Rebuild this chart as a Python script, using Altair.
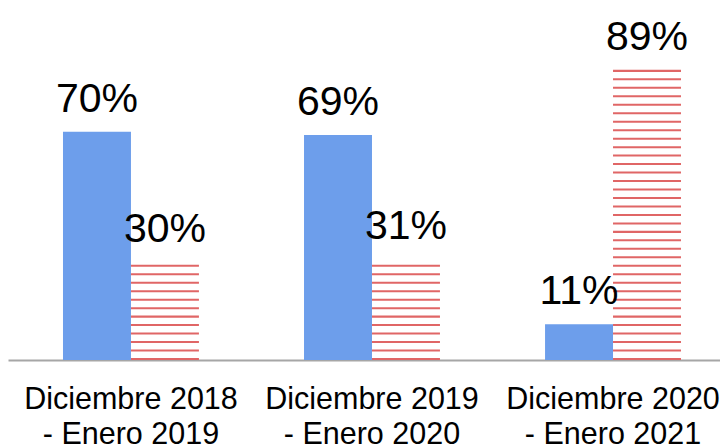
import altair as alt
import pandas as pd

categories = ["Diciembre 2018|- Enero 2019", "Diciembre 2019|- Enero 2020", "Diciembre 2020|- Enero 2021"]
series = ["Serie 1", "Serie 2"]
serie_1 = [70, 69, 11]
serie_2 = [30, 31, 89]

rows = []
for c, a, b in zip(categories, serie_1, serie_2):
    rows.append({"cat": c, "serie": series[0], "value": a, "label": f"{a}%"})
    rows.append({"cat": c, "serie": series[1], "value": b, "label": f"{b}%"})
df = pd.DataFrame(rows)

FONT = "Liberation Sans"
BLUE = "#6d9eeb"
RED = "#e06666"

x = alt.X(
    "cat:N", sort=categories,
    scale=alt.Scale(paddingInner=0.436, paddingOuter=0.195, align=0.585),
    axis=alt.Axis(title=None, labelExpr="split(datum.label, '|')", labelAngle=0,
                  ticks=False, tickSize=0, labelPadding=24, labelFontSize=30.5,
                  labelLineHeight=35, labelFont=FONT, labelColor="#000000",
                  domainColor="#a6a6a6", domainWidth=2, labelLimit=0, grid=False),
)
xo = alt.XOffset("serie:N", sort=series, scale=alt.Scale(paddingInner=0, paddingOuter=0))
yscale = alt.Scale(domain=[0, 108], nice=False, zero=True)

base = alt.Chart(df)

blue = base.transform_filter(f"datum.serie == '{series[0]}'").mark_bar(color=BLUE).encode(
    x=x, xOffset=xo, y=alt.Y("value:Q", scale=yscale, axis=None)
)

stripes = (
    base.transform_filter(f"datum.serie == '{series[1]}'")
    .transform_calculate(k="sequence(0, 45)")
    .transform_flatten(["k"])
    .transform_calculate(s0="datum.k * 2.6", s1="datum.k * 2.6 + 0.62")
    .transform_filter("datum.s1 <= datum.value + 0.05")
    .mark_bar(color=RED)
    .encode(x=x, xOffset=xo, y=alt.Y("s0:Q", scale=yscale, axis=None), y2="s1:Q")
)

labels = base.mark_text(dy=-20, baseline="alphabetic", fontSize=41, font=FONT, color="#000000").encode(
    x=x, xOffset=xo, y=alt.Y("value:Q", scale=yscale, axis=None), text="label:N"
)

chart = (
    alt.layer(blue, stripes, labels)
    .properties(
        width=712, height=352,
        autosize=alt.AutoSizeParams(type="none"),
        padding={"left": 0, "top": 0, "right": 0, "bottom": 92},
    )
    .configure_view(stroke=None)
)

chart.save("out.html", embed_options={"renderer": "svg", "actions": False})
